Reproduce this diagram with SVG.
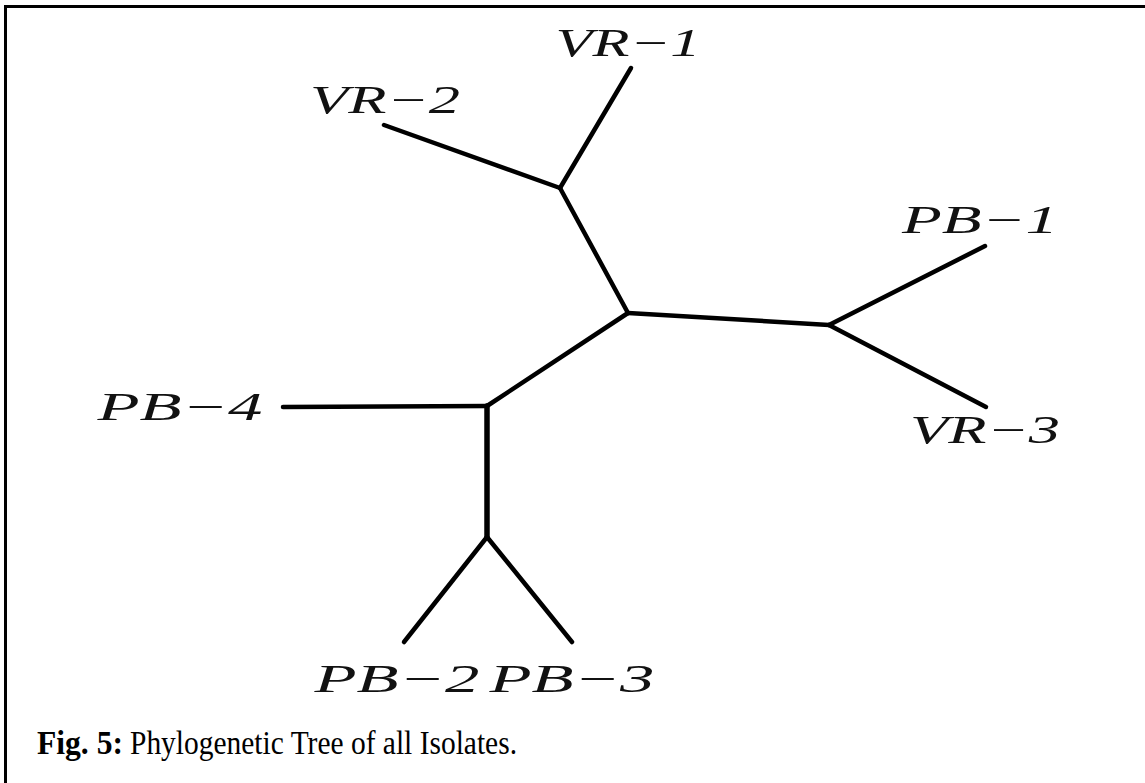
<svg xmlns="http://www.w3.org/2000/svg" width="1145" height="783" viewBox="0 0 1145 783">
<style>
.edge{stroke:#000;stroke-width:4.5;stroke-linecap:round;fill:none}
.lbl{font-family:"Liberation Serif","DejaVu Serif",serif;font-style:italic;font-size:39px;fill:#111;text-anchor:middle}
.cap{font-family:"Liberation Serif","Times New Roman",serif;font-size:34px;fill:#000}
</style>
<rect width="1145" height="783" fill="#fff"/>
<path d="M5.5,783 V6.5 H1145" fill="none" stroke="#000" stroke-width="3"/>
<g id="connectors">
<line class="edge" x1="628" y1="313" x2="560" y2="188"/>
<line class="edge" x1="560" y1="188" x2="631" y2="68"/>
<line class="edge" x1="560" y1="188" x2="384" y2="125"/>
<line class="edge" x1="628" y1="313" x2="829" y2="325"/>
<line class="edge" x1="829" y1="325" x2="985" y2="246"/>
<line class="edge" x1="829" y1="325" x2="986" y2="407"/>
<line class="edge" x1="628" y1="313" x2="487" y2="406"/>
<line class="edge" x1="487" y1="406" x2="283" y2="407"/>
<line class="edge" x1="487" y1="406" x2="487" y2="537" style="stroke-width:5.5"/>
<line class="edge" x1="487" y1="537" x2="404" y2="642"/>
<line class="edge" x1="487" y1="537" x2="572" y2="642"/>
</g>
<g id="node-VR-1"><text class="lbl" x="628" y="56" textLength="145" lengthAdjust="spacingAndGlyphs">VR−1</text></g>
<g id="node-VR-2"><text class="lbl" x="385" y="113" textLength="150" lengthAdjust="spacingAndGlyphs">VR−2</text></g>
<g id="node-PB-1"><text class="lbl" x="980" y="233" textLength="156" lengthAdjust="spacingAndGlyphs">PB−1</text></g>
<g id="node-VR-3"><text class="lbl" x="985" y="443" textLength="150" lengthAdjust="spacingAndGlyphs">VR−3</text></g>
<g id="node-PB-4"><text class="lbl" x="180" y="420" textLength="165" lengthAdjust="spacingAndGlyphs">PB−4</text></g>
<g id="node-PB-2"><text class="lbl" x="397" y="692" textLength="165" lengthAdjust="spacingAndGlyphs">PB−2</text></g>
<g id="node-PB-3"><text class="lbl" x="572" y="692" textLength="165" lengthAdjust="spacingAndGlyphs">PB−3</text></g>
<g id="caption">
<text class="cap" x="37" y="754" font-weight="bold" textLength="86" lengthAdjust="spacingAndGlyphs">Fig. 5:</text>
<text class="cap" x="130" y="754" textLength="387" lengthAdjust="spacingAndGlyphs">Phylogenetic Tree of all Isolates.</text>
</g>
</svg>
